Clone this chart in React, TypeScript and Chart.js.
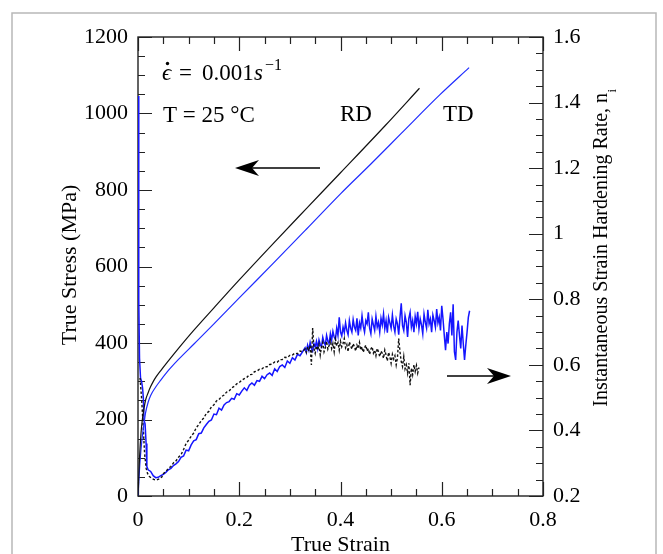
import React, { useEffect, useRef } from "react";
import { Chart, registerables } from "chart.js";
Chart.register(...registerables);

const FONT = "'Liberation Serif', 'Times New Roman', 'DejaVu Serif', serif";

// Axis tick labels
const xTickLabels = ["0", "0.2", "0.4", "0.6", "0.8"];
const yLeftTickLabels = ["0", "200", "400", "600", "800", "1000", "1200"];
const yRightTickLabels = ["0.2", "0.4", "0.6", "0.8", "1", "1.2", "1.4", "1.6"];

// True stress (MPa) vs true strain, RD
const rdStressStrain = [0, 0.003, 0.006, 0.0085, 0.012, 0.015, 0.02, 0.025, 0.03, 0.035, 0.045, 0.058, 0.08, 0.11, 0.15, 0.2, 0.267, 0.333, 0.4, 0.488, 0.556];
const rdStress = [0, 100, 165, 199, 230, 251, 270, 286, 299, 310, 328, 350, 386, 433, 492, 565, 660, 752, 845, 968, 1066];

// True stress (MPa) vs true strain, TD
const tdStressStrain = [0, 0.004, 0.008, 0.012, 0.015, 0.02, 0.025, 0.035, 0.045, 0.058, 0.08, 0.111, 0.15, 0.2, 0.267, 0.333, 0.4, 0.46, 0.52, 0.597, 0.654];
const tdStress = [0, 90, 150, 190, 218, 245, 263, 285, 303, 325, 357, 398, 450, 518, 608, 698, 790, 868, 948, 1050, 1120];

// Instantaneous strain hardening rate, RD
const rdNStrain = [
  0.004, 0.007, 0.01, 0.013, 0.016, 0.019, 0.022, 0.027, 0.032, 0.037, 0.042, 0.047,
  0.05, 0.055, 0.06, 0.065, 0.07, 0.075, 0.08, 0.085, 0.09, 0.095, 0.1, 0.105, 0.11, 0.115, 0.12, 0.125, 0.13, 0.135, 0.14, 0.145,
  0.15, 0.155, 0.16, 0.165, 0.17, 0.175, 0.18, 0.185, 0.19, 0.195, 0.2, 0.205, 0.21, 0.215, 0.22, 0.225, 0.23, 0.235, 0.24, 0.245,
  0.25, 0.255, 0.26, 0.265, 0.27, 0.275, 0.28, 0.285, 0.29, 0.295, 0.3, 0.305, 0.31, 0.315, 0.32, 0.325,
  0.33, 0.3325, 0.335, 0.3375, 0.34, 0.3425, 0.345, 0.3475, 0.35, 0.3525,
  0.355, 0.3575, 0.36, 0.3625, 0.365, 0.3675, 0.37, 0.3725, 0.375, 0.3775,
  0.38, 0.3825, 0.385, 0.3875, 0.39, 0.3925, 0.395, 0.3975, 0.4, 0.4025,
  0.405, 0.4075, 0.41, 0.4125, 0.415, 0.4175, 0.42, 0.4225, 0.425, 0.4275,
  0.43, 0.4325, 0.435, 0.4375, 0.44, 0.4425, 0.445, 0.4475, 0.45, 0.4525,
  0.455, 0.4575, 0.46, 0.4625, 0.465, 0.4675, 0.47, 0.4725, 0.475, 0.4775,
  0.48, 0.4825, 0.485, 0.4875, 0.49, 0.4925, 0.495, 0.4975, 0.5, 0.5025,
  0.505, 0.5075, 0.51, 0.5125, 0.515, 0.5175, 0.52, 0.5225, 0.525, 0.5275,
  0.53, 0.5325, 0.535, 0.5375, 0.54, 0.5425, 0.545, 0.5475, 0.55, 0.5525,
  0.555,
];
const rdN = [
  0.56, 0.5, 0.42, 0.33, 0.285, 0.268, 0.26, 0.254, 0.25, 0.249, 0.252, 0.258,
  0.268, 0.275, 0.284, 0.29, 0.301, 0.307, 0.318, 0.326, 0.342, 0.36, 0.37, 0.382, 0.392, 0.408, 0.418, 0.43, 0.438, 0.452, 0.458, 0.472,
  0.478, 0.49, 0.494, 0.503, 0.508, 0.517, 0.52, 0.53, 0.534, 0.542, 0.546, 0.553, 0.558, 0.562, 0.57, 0.571, 0.579, 0.581, 0.587, 0.588,
  0.594, 0.594, 0.601, 0.602, 0.609, 0.608, 0.616, 0.616, 0.623, 0.622, 0.629, 0.63, 0.636, 0.634, 0.642, 0.64,
  0.648, 0.638, 0.655, 0.642, 0.66, 0.6, 0.712, 0.65, 0.635, 0.658,
  0.645, 0.662, 0.63, 0.655, 0.668, 0.64, 0.652, 0.672, 0.648, 0.66,
  0.675, 0.65, 0.665, 0.64, 0.678, 0.658, 0.668, 0.645, 0.672, 0.655,
  0.665, 0.68, 0.652, 0.662, 0.64, 0.67, 0.658, 0.648, 0.665, 0.655,
  0.642, 0.66, 0.65, 0.668, 0.645, 0.655, 0.638, 0.652, 0.66, 0.642,
  0.65, 0.632, 0.648, 0.655, 0.636, 0.645, 0.628, 0.65, 0.64, 0.625,
  0.642, 0.635, 0.62, 0.645, 0.63, 0.612, 0.638, 0.625, 0.605, 0.632,
  0.618, 0.628, 0.6, 0.622, 0.68, 0.64, 0.61, 0.595, 0.625, 0.588,
  0.6, 0.575, 0.605, 0.538, 0.59, 0.57, 0.6, 0.58, 0.598, 0.575,
  0.592,
];

// Instantaneous strain hardening rate, TD
const tdNStrain = [
  0.0008, 0.0012, 0.0018, 0.003, 0.005, 0.007, 0.009, 0.0105, 0.012, 0.014, 0.016, 0.0175, 0.02, 0.025, 0.03,
  0.035, 0.04, 0.045, 0.05, 0.055, 0.06, 0.065, 0.07, 0.075, 0.08, 0.085, 0.09, 0.095, 0.1, 0.105, 0.11, 0.115, 0.12, 0.125, 0.13,
  0.135, 0.14, 0.145, 0.15, 0.155, 0.16, 0.165, 0.17, 0.175, 0.18, 0.185, 0.19, 0.195, 0.2, 0.205, 0.21, 0.215, 0.22, 0.225, 0.23,
  0.235, 0.24, 0.245, 0.25, 0.255, 0.26, 0.265, 0.27, 0.275, 0.28, 0.285, 0.29, 0.295, 0.3, 0.305, 0.31, 0.315, 0.32, 0.325,
  0.33, 0.3325, 0.335, 0.3375, 0.34, 0.3425, 0.345, 0.3475, 0.35, 0.3525,
  0.355, 0.3575, 0.36, 0.3625, 0.365, 0.3675, 0.37, 0.3725, 0.375, 0.3775,
  0.38, 0.3825, 0.385, 0.3875, 0.39, 0.3925, 0.395, 0.3975, 0.4, 0.4025,
  0.405, 0.4075, 0.41, 0.4125, 0.415, 0.4175, 0.42, 0.4225, 0.425, 0.4275,
  0.43, 0.4325, 0.435, 0.4375, 0.44, 0.4425, 0.445, 0.4475, 0.45, 0.4525,
  0.455, 0.4575, 0.46, 0.4625, 0.465, 0.4675, 0.47, 0.4725, 0.475, 0.4775,
  0.48, 0.4825, 0.485, 0.4875, 0.49, 0.4925, 0.495, 0.4975, 0.5, 0.5025,
  0.505, 0.5075, 0.51, 0.5125, 0.515, 0.5175, 0.52, 0.5225, 0.525, 0.5275,
  0.53, 0.5325, 0.535, 0.5375, 0.54, 0.5425, 0.545, 0.5475, 0.55, 0.5525,
  0.555, 0.5575, 0.56, 0.5625, 0.565, 0.5675, 0.57, 0.5725, 0.575, 0.5775,
  0.58, 0.5825, 0.585, 0.5875, 0.59, 0.5925, 0.595, 0.5975, 0.6, 0.6025,
  0.605, 0.6075, 0.61, 0.6125, 0.615, 0.6175, 0.62, 0.6225, 0.625, 0.6275,
  0.63, 0.6325, 0.635, 0.6375, 0.64, 0.6425, 0.645, 0.6475, 0.65, 0.6525,
  0.655,
];
const tdN = [
  1.42, 1.1, 0.8, 0.62, 0.56, 0.55, 0.53, 0.5, 0.43, 0.42, 0.36, 0.29, 0.28, 0.275, 0.262,
  0.256, 0.257, 0.262, 0.266, 0.272, 0.28, 0.284, 0.293, 0.298, 0.305, 0.318, 0.322, 0.34, 0.338, 0.356, 0.368, 0.372, 0.39, 0.392, 0.408,
  0.418, 0.428, 0.432, 0.45, 0.448, 0.468, 0.462, 0.478, 0.485, 0.488, 0.498, 0.495, 0.512, 0.508, 0.52, 0.53, 0.522, 0.538, 0.545, 0.538,
  0.552, 0.55, 0.565, 0.558, 0.57, 0.575, 0.568, 0.588, 0.58, 0.595, 0.6, 0.592, 0.612, 0.605, 0.622, 0.615, 0.632, 0.628, 0.64,
  0.652, 0.638, 0.66, 0.645, 0.668, 0.65, 0.642, 0.665, 0.655, 0.672,
  0.65, 0.676, 0.662, 0.655, 0.684, 0.668, 0.66, 0.69, 0.672, 0.665,
  0.695, 0.675, 0.702, 0.685, 0.678, 0.712, 0.69, 0.745, 0.7, 0.688,
  0.715, 0.698, 0.728, 0.705, 0.692, 0.735, 0.712, 0.7, 0.738, 0.715,
  0.705, 0.742, 0.69, 0.728, 0.712, 0.75, 0.718, 0.7, 0.735, 0.725,
  0.76, 0.712, 0.695, 0.74, 0.722, 0.705, 0.748, 0.715, 0.73, 0.7,
  0.742, 0.722, 0.755, 0.71, 0.735, 0.698, 0.745, 0.728, 0.712, 0.752,
  0.718, 0.7, 0.74, 0.725, 0.692, 0.745, 0.788, 0.72, 0.705, 0.75,
  0.73, 0.685, 0.742, 0.76, 0.715, 0.735, 0.7, 0.748, 0.725, 0.762,
  0.71, 0.74, 0.722, 0.695, 0.755, 0.73, 0.712, 0.768, 0.725, 0.74,
  0.7, 0.752, 0.735, 0.715, 0.77, 0.728, 0.745, 0.705, 0.78, 0.74,
  0.69, 0.645, 0.7, 0.665, 0.725, 0.76, 0.69, 0.785, 0.64, 0.615,
  0.7, 0.735, 0.69, 0.65, 0.72, 0.665, 0.615, 0.66, 0.7, 0.745,
  0.765,
];

const pts = (xs: number[], ys: number[]) => xs.map((x, i) => ({ x, y: ys[i] }));

function arrow(ctx: CanvasRenderingContext2D, x1: number, x2: number, y: number) {
  const dir = x2 > x1 ? 1 : -1;
  ctx.save();
  ctx.strokeStyle = "#000";
  ctx.fillStyle = "#000";
  ctx.lineWidth = 1.6;
  ctx.beginPath();
  ctx.moveTo(x1, y);
  ctx.lineTo(x2 - dir * 14, y);
  ctx.stroke();
  ctx.beginPath();
  ctx.moveTo(x2, y);
  ctx.lineTo(x2 - dir * 24, y - 8);
  ctx.lineTo(x2 - dir * 17, y);
  ctx.lineTo(x2 - dir * 24, y + 8);
  ctx.closePath();
  ctx.fill();
  ctx.restore();
}

const decor = {
  id: "decor",
  beforeDatasetsDraw(chart: any) {
    const { ctx, chartArea: a, scales } = chart;
    ctx.save();
    ctx.strokeStyle = "#b8b8b8";
    ctx.lineWidth = 1.5;
    ctx.beginPath();
    ctx.moveTo(12, 560);
    ctx.lineTo(12, 13);
    ctx.lineTo(656, 13);
    ctx.lineTo(656, 560);
    ctx.stroke();
    ctx.strokeStyle = "#222";
    ctx.lineWidth = 1.4;
    ctx.strokeRect(a.left, a.top, a.right - a.left, a.bottom - a.top);
    ctx.lineWidth = 1.2;
    ctx.beginPath();
    const xs = scales.x;
    for (let i = 0; i <= 16; i++) {
      const px = Math.round(xs.getPixelForValue(i * 0.05)) + 0.5;
      const len = i % 4 === 0 ? 14 : 7;
      ctx.moveTo(px, a.bottom);
      ctx.lineTo(px, a.bottom - len);
      ctx.moveTo(px, a.top);
      ctx.lineTo(px, a.top + len);
    }
    const yl = scales.y;
    for (let i = 0; i <= 24; i++) {
      const py = Math.round(yl.getPixelForValue(i * 50)) + 0.5;
      const len = i % 4 === 0 ? 14 : 7;
      ctx.moveTo(a.left, py);
      ctx.lineTo(a.left + len, py);
    }
    const yr = scales.y1;
    for (let i = 0; i <= 28; i++) {
      const py = Math.round(yr.getPixelForValue(0.2 + i * 0.05)) + 0.5;
      const len = i % 4 === 0 ? 14 : 7;
      ctx.moveTo(a.right, py);
      ctx.lineTo(a.right - len, py);
    }
    ctx.stroke();
    ctx.restore();
  },
  afterDatasetsDraw(chart: any) {
    const { ctx } = chart;
    ctx.save();
    ctx.fillStyle = "#000";
    ctx.textBaseline = "alphabetic";
    ctx.textAlign = "left";
    ctx.font = `italic 23px ${FONT}`;
    ctx.fillText("ϵ", 162, 80);
    ctx.beginPath();
    ctx.arc(167.5, 63.5, 1.7, 0, Math.PI * 2);
    ctx.fill();
    ctx.font = `23px ${FONT}`;
    ctx.fillText("=", 179, 80);
    ctx.fillText("0.001", 202, 80);
    ctx.font = `italic 23px ${FONT}`;
    ctx.fillText("s", 254, 80);
    ctx.font = `16px ${FONT}`;
    ctx.fillText("−1", 265, 70);
    ctx.font = `23px ${FONT}`;
    ctx.fillText("T = 25 °C", 163, 122);
    ctx.fillText("RD", 340, 121);
    ctx.fillText("TD", 443, 121);
    arrow(ctx, 320, 235, 168);
    arrow(ctx, 447, 511, 376);
    ctx.font = `22px ${FONT}`;
    ctx.textAlign = "center";
    ctx.fillText("True Strain", 340.5, 551);
    ctx.save();
    ctx.translate(76, 265);
    ctx.rotate(-Math.PI / 2);
    ctx.fillText("True Stress (MPa)", 0, 0);
    ctx.restore();
    ctx.save();
    ctx.translate(607, 248);
    ctx.rotate(-Math.PI / 2);
    ctx.font = `20px ${FONT}`;
    const main = "Instantaneous Strain Hardening Rate, n";
    const wm = ctx.measureText(main).width;
    ctx.font = `13px ${FONT}`;
    const ws = ctx.measureText("i").width;
    const start = -(wm + ws) / 2;
    ctx.textAlign = "left";
    ctx.font = `20px ${FONT}`;
    ctx.fillText(main, start, 0);
    ctx.font = `13px ${FONT}`;
    ctx.fillText("i", start + wm + 0.5, 9);
    ctx.restore();
    ctx.restore();
  },
};

export default function App() {
  const ref = useRef<HTMLCanvasElement>(null);
  useEffect(() => {
    if (!ref.current) return;
    const tickFont = { family: FONT, size: 22 };
    const chart = new Chart(ref.current, {
      type: "scatter",
      data: {
        datasets: [
          {
            label: "RD stress",
            data: pts(rdStressStrain, rdStress),
            yAxisID: "y",
            showLine: true,
            borderColor: "#111",
            borderWidth: 1.2,
            pointRadius: 0,
            cubicInterpolationMode: "monotone",
          },
          {
            label: "TD stress",
            data: pts(tdStressStrain, tdStress),
            yAxisID: "y",
            showLine: true,
            borderColor: "#1f2cff",
            borderWidth: 1.2,
            pointRadius: 0,
            cubicInterpolationMode: "monotone",
          },
          {
            label: "RD n",
            data: pts(rdNStrain, rdN),
            yAxisID: "y1",
            showLine: true,
            borderColor: "#111",
            borderWidth: 1.4,
            borderDash: [2.5, 2],
            pointRadius: 0,
          },
          {
            label: "TD n",
            data: pts(tdNStrain, tdN),
            yAxisID: "y1",
            showLine: true,
            borderColor: "#1515ff",
            borderWidth: 1.5,
            pointRadius: 0,
          },
        ],
      } as any,
      options: {
        animation: false,
        responsive: true,
        maintainAspectRatio: false,
        devicePixelRatio: 1,
        layout: { padding: { top: 37, left: 0, right: 0, bottom: 0 } },
        plugins: { legend: { display: false }, tooltip: { enabled: false } },
        scales: {
          x: {
            type: "linear",
            min: 0,
            max: 0.8,
            grid: { display: false, drawTicks: false },
            border: { display: false },
            ticks: {
              stepSize: 0.2,
              autoSkip: false,
              maxRotation: 0,
              font: tickFont,
              color: "#000",
              padding: 11,
              callback: (v: any) => xTickLabels[Math.round(Number(v) / 0.2)] ?? "",
            },
            afterFit: (s: any) => {
              s.height = 58;
            },
          },
          y: {
            type: "linear",
            position: "left",
            min: 0,
            max: 1200,
            grid: { display: false, drawTicks: false },
            border: { display: false },
            ticks: {
              stepSize: 200,
              autoSkip: false,
              font: tickFont,
              color: "#000",
              padding: 10,
              callback: (v: any) => yLeftTickLabels[Math.round(Number(v) / 200)] ?? "",
            },
            afterFit: (s: any) => {
              s.width = 138;
            },
          },
          y1: {
            type: "linear",
            position: "right",
            min: 0.2,
            max: 1.6,
            grid: { display: false, drawTicks: false },
            border: { display: false },
            ticks: {
              stepSize: 0.2,
              autoSkip: false,
              font: tickFont,
              color: "#000",
              padding: 10,
              callback: (v: any) => yRightTickLabels[Math.round((Number(v) - 0.2) / 0.2)] ?? "",
            },
            afterFit: (s: any) => {
              s.width = 120;
            },
          },
        },
      } as any,
      plugins: [decor],
    });
    return () => chart.destroy();
  }, []);
  return (
    <div style={{ position: "absolute", left: 0, top: 0, width: 663, height: 554, background: "#fff" }}>
      <canvas ref={ref} />
    </div>
  );
}
